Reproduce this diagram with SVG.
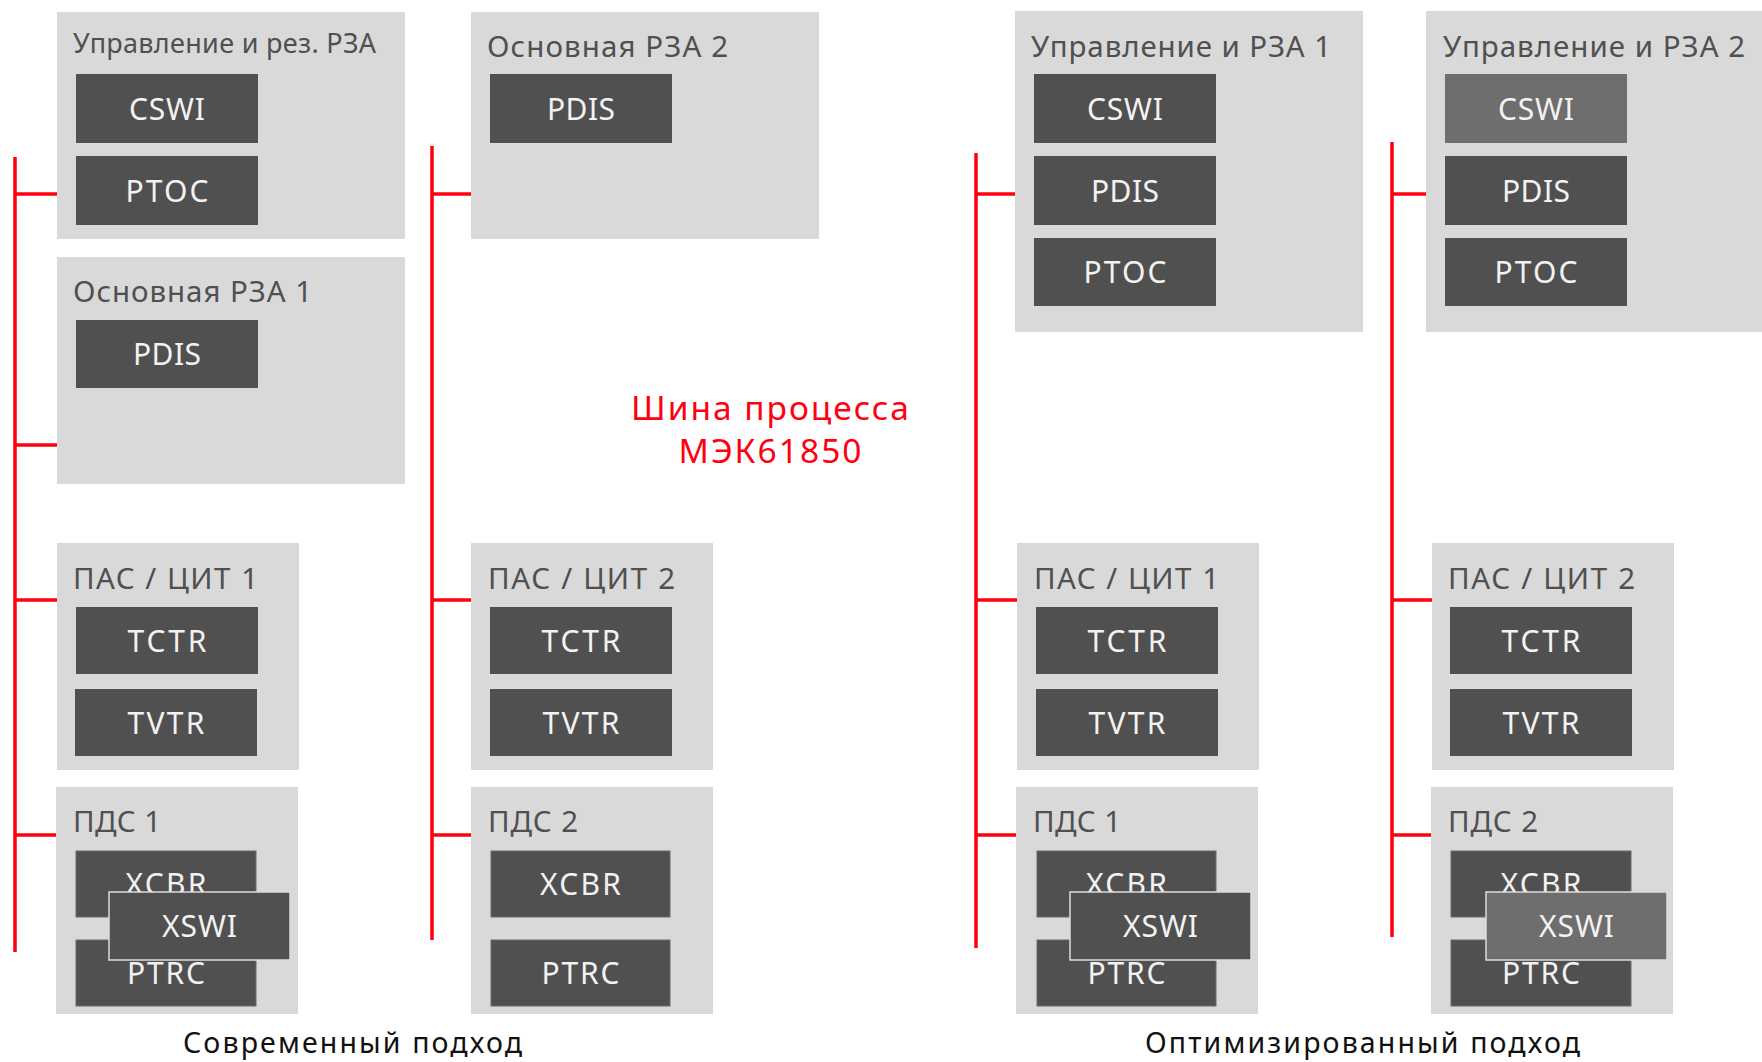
<svg xmlns="http://www.w3.org/2000/svg" width="1762" height="1062" viewBox="0 0 1762 1062">
  <style>
    .panel { fill: #d9d9d9; }
    .ln { fill: #505050; }
    .ln.edge { stroke: #6a6a6a; stroke-width: 1; }
    .ln.soft { fill: #6e6e6e; }
    .ln.top { stroke: #dcdcdc; stroke-width: 1.5; }
    text { font-family: "Noto Sans", "Open Sans", sans-serif; }
    .ttl { font-size: 29.5px; fill: #505050; }
    .ttl.small { font-size: 27px; }
    .lbl { font-size: 30px; fill: #f2f2f2; text-anchor: middle; }
    .bus { stroke: #ff000f; stroke-width: 3.5; fill: none; }
    .bus-name { font-size: 33.5px; fill: #ff000f; text-anchor: middle; }
    .caption { font-size: 28.5px; fill: #111111; text-anchor: middle; }
  </style>

  <rect width="1762" height="1062" fill="#ffffff"/>

  <!-- process bus lines with branch taps -->
  <g id="connectors">
    <path class="bus" d="M15,157 V952 M15,194 H57 M15,445 H57 M15,600 H57 M15,835 H56"/>
    <path class="bus" d="M432,146 V940 M432,194 H471 M432,600 H471 M432,835 H471"/>
    <path class="bus" d="M976,153 V948 M976,194 H1015 M976,600 H1017 M976,835 H1016"/>
    <path class="bus" d="M1392,142 V937 M1392,194 H1426 M1392,600 H1432 M1392,835 H1431"/>
  </g>

  <!-- ===== conventional approach ===== -->
  <g id="ctrl-backup">
    <rect class="panel" x="57" y="12" width="348" height="227"/>
    <text class="ttl small" x="73" y="53" textLength="303" lengthAdjust="spacing">Управление и рез. РЗА</text>
    <rect class="ln" x="76" y="74" width="182" height="69"/>
    <text class="lbl" x="167" y="119.5" textLength="76" lengthAdjust="spacing">CSWI</text>
    <rect class="ln" x="76" y="156" width="182" height="69"/>
    <text class="lbl" x="167" y="201.5" textLength="83" lengthAdjust="spacing">PTOC</text>
  </g>

  <g id="main-prot-1">
    <rect class="panel" x="57" y="257" width="348" height="227"/>
    <text class="ttl" x="73" y="302" textLength="239" lengthAdjust="spacing">Основная РЗА 1</text>
    <rect class="ln" x="76" y="320" width="182" height="68"/>
    <text class="lbl" x="167" y="365" textLength="68" lengthAdjust="spacing">PDIS</text>
  </g>

  <g id="main-prot-2">
    <rect class="panel" x="471" y="12" width="348" height="227"/>
    <text class="ttl" x="487" y="57" textLength="241" lengthAdjust="spacing">Основная РЗА 2</text>
    <rect class="ln" x="490" y="74" width="182" height="69"/>
    <text class="lbl" x="581" y="119.5" textLength="68" lengthAdjust="spacing">PDIS</text>
  </g>

  <g id="mu-1">
    <rect class="panel" x="57" y="543" width="242" height="227"/>
    <text class="ttl" x="73" y="589" textLength="185" lengthAdjust="spacing">ПАС / ЦИТ 1</text>
    <rect class="ln" x="76" y="607" width="182" height="67"/>
    <text class="lbl" x="167" y="651.5" textLength="79" lengthAdjust="spacing">TCTR</text>
    <rect class="ln" x="75" y="689" width="182" height="67"/>
    <text class="lbl" x="166" y="733.5" textLength="77" lengthAdjust="spacing">TVTR</text>
  </g>

  <g id="swgear-1">
    <rect class="panel" x="56" y="787" width="242" height="227"/>
    <text class="ttl" x="73" y="832" textLength="88" lengthAdjust="spacing">ПДС 1</text>
    <rect class="ln edge" x="76" y="851" width="180" height="66"/>
    <text class="lbl" x="166" y="895" textLength="81" lengthAdjust="spacing">XCBR</text>
    <rect class="ln edge" x="76" y="940" width="180" height="66"/>
    <text class="lbl" x="166" y="984" textLength="78" lengthAdjust="spacing">PTRC</text>
    <rect class="ln top" x="109" y="892" width="181" height="68"/>
    <text class="lbl" x="199.5" y="937" textLength="75" lengthAdjust="spacing">XSWI</text>
  </g>

  <g id="mu-2">
    <rect class="panel" x="471" y="543" width="242" height="227"/>
    <text class="ttl" x="488" y="589" textLength="187" lengthAdjust="spacing">ПАС / ЦИТ 2</text>
    <rect class="ln" x="490" y="607" width="182" height="67"/>
    <text class="lbl" x="581" y="651.5" textLength="79" lengthAdjust="spacing">TCTR</text>
    <rect class="ln" x="490" y="689" width="182" height="67"/>
    <text class="lbl" x="581" y="733.5" textLength="77" lengthAdjust="spacing">TVTR</text>
  </g>

  <g id="swgear-2">
    <rect class="panel" x="471" y="787" width="242" height="227"/>
    <text class="ttl" x="488" y="832" textLength="90" lengthAdjust="spacing">ПДС 2</text>
    <rect class="ln edge" x="491" y="851" width="179" height="66"/>
    <text class="lbl" x="580.5" y="895" textLength="81" lengthAdjust="spacing">XCBR</text>
    <rect class="ln edge" x="491" y="940" width="179" height="66"/>
    <text class="lbl" x="580.5" y="984" textLength="78" lengthAdjust="spacing">PTRC</text>
  </g>

  <g id="bus-label">
    <text class="bus-name" x="770" y="420" textLength="278" lengthAdjust="spacing">Шина процесса</text>
    <text class="bus-name" x="770" y="463" textLength="183" lengthAdjust="spacing">МЭК61850</text>
  </g>

  <!-- ===== optimised approach ===== -->
  <g id="ctrl-prot-1">
    <rect class="panel" x="1015" y="11" width="348" height="321"/>
    <text class="ttl" x="1031" y="57" textLength="300" lengthAdjust="spacing">Управление и РЗА 1</text>
    <rect class="ln" x="1034" y="74" width="182" height="69"/>
    <text class="lbl" x="1125" y="119.5" textLength="76" lengthAdjust="spacing">CSWI</text>
    <rect class="ln" x="1034" y="156" width="182" height="69"/>
    <text class="lbl" x="1125" y="201.5" textLength="68" lengthAdjust="spacing">PDIS</text>
    <rect class="ln" x="1034" y="238" width="182" height="68"/>
    <text class="lbl" x="1125" y="283" textLength="83" lengthAdjust="spacing">PTOC</text>
  </g>

  <g id="ctrl-prot-2">
    <rect class="panel" x="1426" y="11" width="336" height="321"/>
    <text class="ttl" x="1443" y="57" textLength="302" lengthAdjust="spacing">Управление и РЗА 2</text>
    <rect class="ln soft" x="1445" y="74" width="182" height="69"/>
    <text class="lbl" x="1536" y="119.5" textLength="76" lengthAdjust="spacing">CSWI</text>
    <rect class="ln" x="1445" y="156" width="182" height="69"/>
    <text class="lbl" x="1536" y="201.5" textLength="68" lengthAdjust="spacing">PDIS</text>
    <rect class="ln" x="1445" y="238" width="182" height="68"/>
    <text class="lbl" x="1536" y="283" textLength="83" lengthAdjust="spacing">PTOC</text>
  </g>

  <g id="opt-mu-1">
    <rect class="panel" x="1017" y="543" width="242" height="227"/>
    <text class="ttl" x="1034" y="589" textLength="185" lengthAdjust="spacing">ПАС / ЦИТ 1</text>
    <rect class="ln" x="1036" y="607" width="182" height="67"/>
    <text class="lbl" x="1127" y="651.5" textLength="79" lengthAdjust="spacing">TCTR</text>
    <rect class="ln" x="1036" y="689" width="182" height="67"/>
    <text class="lbl" x="1127" y="733.5" textLength="77" lengthAdjust="spacing">TVTR</text>
  </g>

  <g id="opt-swgear-1">
    <rect class="panel" x="1016" y="787" width="242" height="227"/>
    <text class="ttl" x="1033" y="832" textLength="88" lengthAdjust="spacing">ПДС 1</text>
    <rect class="ln edge" x="1037" y="851" width="179" height="66"/>
    <text class="lbl" x="1126.5" y="895" textLength="81" lengthAdjust="spacing">XCBR</text>
    <rect class="ln edge" x="1037" y="940" width="179" height="66"/>
    <text class="lbl" x="1126.5" y="984" textLength="78" lengthAdjust="spacing">PTRC</text>
    <rect class="ln top" x="1070" y="892" width="181" height="68"/>
    <text class="lbl" x="1160.5" y="937" textLength="75" lengthAdjust="spacing">XSWI</text>
  </g>

  <g id="opt-mu-2">
    <rect class="panel" x="1432" y="543" width="242" height="227"/>
    <text class="ttl" x="1448" y="589" textLength="187" lengthAdjust="spacing">ПАС / ЦИТ 2</text>
    <rect class="ln" x="1450" y="607" width="182" height="67"/>
    <text class="lbl" x="1541" y="651.5" textLength="79" lengthAdjust="spacing">TCTR</text>
    <rect class="ln" x="1450" y="689" width="182" height="67"/>
    <text class="lbl" x="1541" y="733.5" textLength="77" lengthAdjust="spacing">TVTR</text>
  </g>

  <g id="opt-swgear-2">
    <rect class="panel" x="1431" y="787" width="242" height="227"/>
    <text class="ttl" x="1448" y="832" textLength="90" lengthAdjust="spacing">ПДС 2</text>
    <rect class="ln edge" x="1451" y="851" width="180" height="66"/>
    <text class="lbl" x="1541" y="895" textLength="81" lengthAdjust="spacing">XCBR</text>
    <rect class="ln edge" x="1451" y="940" width="180" height="66"/>
    <text class="lbl" x="1541" y="984" textLength="78" lengthAdjust="spacing">PTRC</text>
    <rect class="ln soft top" x="1486" y="892" width="181" height="68"/>
    <text class="lbl" x="1576.5" y="937" textLength="75" lengthAdjust="spacing">XSWI</text>
  </g>

  <g id="captions">
    <text class="caption" x="352.5" y="1053" textLength="339" lengthAdjust="spacing">Современный подход</text>
    <text class="caption" x="1362.5" y="1053" textLength="435" lengthAdjust="spacing">Оптимизированный подход</text>
  </g>
</svg>
